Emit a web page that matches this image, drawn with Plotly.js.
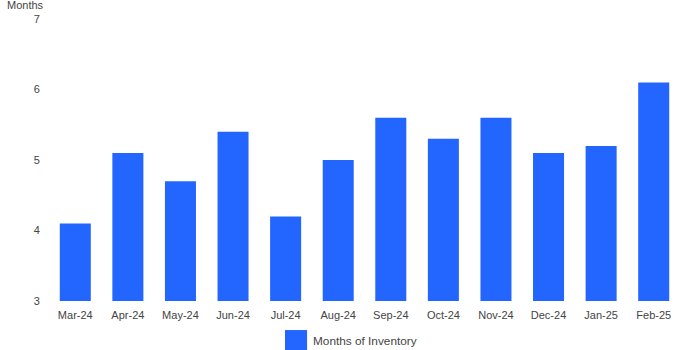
<!DOCTYPE html>
<html>
<head>
<meta charset="utf-8">
<script src="https://cdn.plot.ly/plotly-3.0.1.min.js"></script>
<style>
body{margin:0;padding:0;background:#fff;}
#chart{width:700px;height:350px;}
</style>
</head>
<body>
<div id="chart"></div>
<script>
var categories = ["Mar-24","Apr-24","May-24","Jun-24","Jul-24","Aug-24","Sep-24","Oct-24","Nov-24","Dec-24","Jan-25","Feb-25"];
var monthsOfInventory = [4.1,5.1,4.7,5.4,4.2,5.0,5.6,5.3,5.6,5.1,5.2,6.1];
var yTicks = [3,4,5,6,7];
var seriesName = "Months of Inventory";
var barColor = "#2266ff";

var trace = {
  type: "bar",
  x: categories,
  y: monthsOfInventory,
  name: seriesName,
  marker: {color: barColor},
  hoverinfo: "x+y",
  showlegend: false
};

var layout = {
  width: 700, height: 350,
  margin: {l: 49, r: 20, t: 19, b: 49, autoexpand: false},
  paper_bgcolor: "#fff", plot_bgcolor: "#fff",
  font: {family: "Liberation Sans, Arial, sans-serif", size: 11, color: "#444"},
  bargap: 0.41,
  xaxis: {
    type: "category",
    showgrid: false, zeroline: false, showline: false,
    ticks: "outside", ticklen: 4, tickcolor: "rgba(0,0,0,0)",
    tickfont: {size: 11, color: "#444"}
  },
  yaxis: {
    range: [3, 7], tickvals: yTicks,
    showgrid: false, zeroline: false, showline: false,
    ticks: "outside", ticklen: 6, tickcolor: "rgba(0,0,0,0)",
    tickfont: {size: 11, color: "#444"}
  },
  showlegend: false,
  shapes: [{
    type: "rect", xref: "paper", yref: "paper",
    x0: 0.374, x1: 0.409, y0: -0.103, y1: -0.174,
    fillcolor: barColor, line: {width: 0}
  }],
  annotations: [{
    text: "Months", xref: "paper", yref: "paper", x: -0.07, y: 1.0,
    xanchor: "left", yanchor: "bottom", showarrow: false,
    font: {size: 11, color: "#444"}, yshift: 6
  }, {
    text: seriesName, xref: "paper", yref: "paper", x: 0.415, y: -0.142,
    xanchor: "left", yanchor: "middle", showarrow: false,
    font: {size: 11.8, color: "#444"}
  }]
};

Plotly.newPlot("chart", [trace], layout, {displayModeBar: false, staticPlot: true});
</script>
</body>
</html>
